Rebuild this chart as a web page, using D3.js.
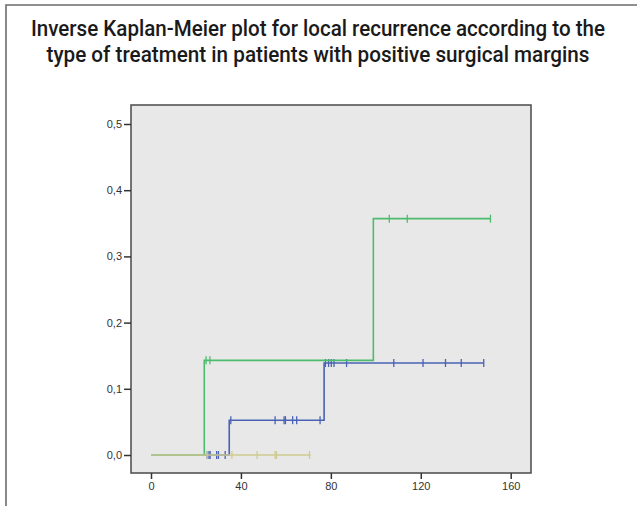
<!DOCTYPE html>
<html>
<head>
<meta charset="utf-8">
<script src="https://cdn.jsdelivr.net/npm/d3@7"></script>
<style>
  html, body { margin: 0; padding: 0; background: #fff; }
  svg { display: block; }
</style>
</head>
<body>
<div id="chart"></div>
<script>
// title lines
const titleLines = [
  'Inverse Kaplan-Meier plot for local recurrence according to the',
  'type of treatment in patients with positive surgical margins'
];

// axis ticks
const xTicks = [0, 40, 80, 120, 160];
const yTicks = [0, 0.1, 0.2, 0.3, 0.4, 0.5];

// step curves: times where level changes, cumulative incidence at that time
const blueTimes = [0, 34.8, 77, 148];
const blueLevels = [0, 0.0526, 0.139, 0.139];
const blueCensor = [25, 25.8, 26.3, 29.2, 30, 33, 35.5, 55.2, 59.2, 59.8, 63, 64.8, 75.2,
  77.6, 79, 80.2, 81.4, 87, 108, 121, 131, 138, 148];

const greenTimes = [0, 23.7, 98.9, 151];
const greenLevels = [0, 0.143, 0.357, 0.357];
const greenCensor = [24.5, 26.2, 106, 114, 151];

const tanTimes = [0, 71];
const tanLevels = [0, 0];
const tanCensor = [25, 36, 47.2, 55.2, 55.8, 70.5];

const width = 637, height = 506;
const plot = { left: 131, right: 531, top: 105, bottom: 473 };

const svg = d3.select('#chart').append('svg')
  .attr('width', width)
  .attr('height', height);

// outer frame (left + top only)
svg.append('path')
  .attr('d', 'M6,506 L6,5 L637,5')
  .attr('fill', 'none')
  .attr('stroke', '#6b6b6b')
  .attr('stroke-width', 1.6);

svg.selectAll('.title').data(titleLines).enter().append('text')
  .attr('class', 'title')
  .attr('x', 318)
  .attr('y', (d, i) => 36 + i * 26)
  .attr('text-anchor', 'middle')
  .attr('font-family', 'Roboto, "Liberation Sans", sans-serif')
  .attr('font-weight', 500)
  .attr('font-size', 21.5)
  .attr('fill', '#1a1a1a')
  .attr('textLength', (d, i) => i === 0 ? 574 : 543)
  .attr('lengthAdjust', 'spacingAndGlyphs')
  .text(d => d);

const x = d3.scaleLinear().domain([0, 160]).range([151, 510.7]);
const y = d3.scaleLinear().domain([0, 0.5]).range([455, 124]);

svg.append('rect')
  .attr('x', plot.left)
  .attr('y', plot.top)
  .attr('width', plot.right - plot.left)
  .attr('height', plot.bottom - plot.top)
  .attr('fill', '#e8e8e8')
  .attr('stroke', '#4a4a4a')
  .attr('stroke-width', 1.5);

const axisFont = 'Arial, "Liberation Sans", sans-serif';

const gx = svg.append('g')
  .attr('transform', 'translate(0,' + plot.bottom + ')')
  .call(d3.axisBottom(x).tickValues(xTicks).tickSize(6).tickPadding(3).tickFormat(d3.format('d')));
gx.select('.domain').remove();

const gy = svg.append('g')
  .attr('transform', 'translate(' + plot.left + ',0)')
  .call(d3.axisLeft(y).tickValues(yTicks).tickSize(7).tickPadding(2)
    .tickFormat(d => d3.format('.1f')(d).replace('.', ',')));
gy.select('.domain').remove();

[gx, gy].forEach(g => {
  g.selectAll('.tick line').attr('stroke', '#333').attr('stroke-width', 1.5);
  g.selectAll('.tick text')
    .attr('font-family', axisFont)
    .attr('font-size', 11)
    .attr('fill', '#333');
});

const series = [
  { times: blueTimes, levels: blueLevels, censor: blueCensor, color: '#4a62b4' },
  { times: greenTimes, levels: greenLevels, censor: greenCensor, color: '#4cbc6c' },
  { times: tanTimes, levels: tanLevels, censor: tanCensor, color: '#cfcb90' }
];

const line = d3.line()
  .x(d => x(d[0]))
  .y(d => y(d[1]))
  .curve(d3.curveStepAfter);

function levelAt(s, t) {
  let v = s.levels[0];
  s.times.forEach((tt, i) => { if (tt <= t) v = s.levels[i]; });
  return v;
}

series.forEach(s => {
  const g = svg.append('g');
  g.append('path')
    .datum(s.times.map((t, i) => [t, s.levels[i]]))
    .attr('d', line)
    .attr('fill', 'none')
    .attr('stroke', s.color)
    .attr('stroke-width', 1.6);

  g.selectAll('.cens').data(s.censor).enter().append('line')
    .attr('class', 'cens')
    .attr('x1', d => x(d))
    .attr('x2', d => x(d))
    .attr('y1', d => y(levelAt(s, d)) - 4)
    .attr('y2', d => y(levelAt(s, d)) + 4)
    .attr('stroke', s.color)
    .attr('stroke-width', 1.3);
});
</script>
</body>
</html>
